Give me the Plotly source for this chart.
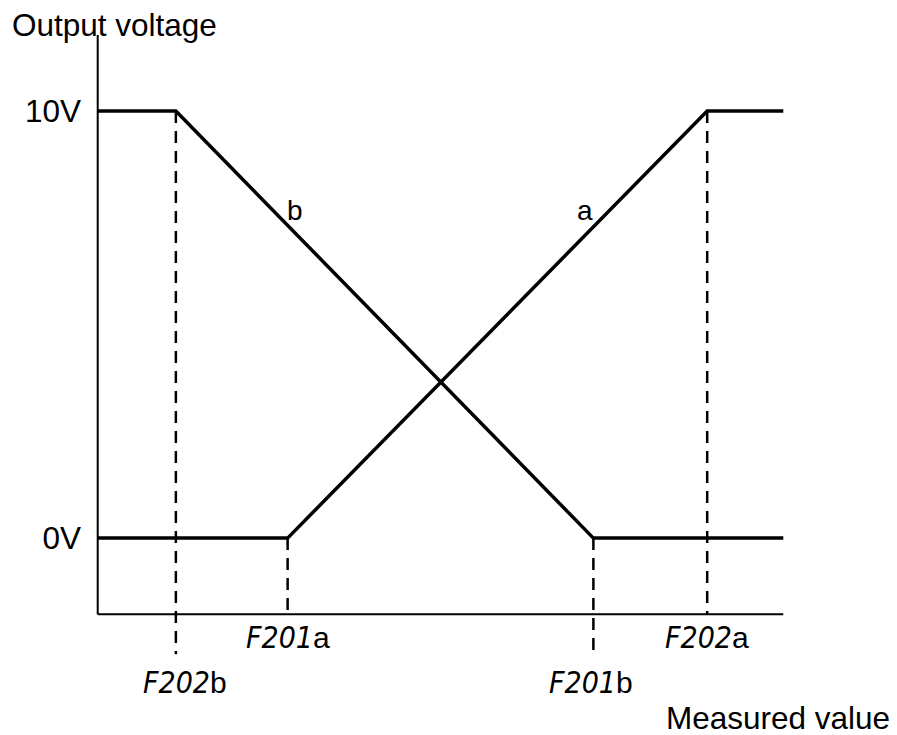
import plotly.graph_objects as go

# Measured-value break points (arbitrary 0-100 scale) and output levels in volts
x_f202b = 11.4
x_f201a = 27.7
x_f201b = 72.3
x_f202a = 88.9
x_end = 100.0
v_low = 0.0
v_high = 10.0

# Output characteristic a (rising) and b (falling)
a_x = [0.0, x_f201a, x_f202a, x_end]
a_y = [v_low, v_low, v_high, v_high]
b_x = [0.0, x_f202b, x_f201b, x_end]
b_y = [v_high, v_high, v_low, v_low]

tick_vals = [v_low, v_high]
tick_text = ["0V", "10V"]

axis_floor = -1.78   # level of the measured-value axis
axis_top = 11.78
y_bottom = -4.61

FONT = "Liberation Sans, Arial, sans-serif"
SEG = "font-family:'Liberation Sans Narrow','DejaVu Sans Condensed',Roboto,sans-serif;font-style:italic"

fig = go.Figure()
for xs, ys in ((a_x, a_y), (b_x, b_y)):
    fig.add_trace(go.Scatter(x=xs, y=ys, mode="lines",
                             line=dict(color="black", width=3.5),
                             hoverinfo="skip", showlegend=False))

shapes = [
    # axes
    dict(type="line", xref="x", yref="y", x0=0, x1=0, y0=axis_floor, y1=axis_top,
         line=dict(color="black", width=2)),
    dict(type="line", xref="x", yref="y", x0=0, x1=x_end, y0=axis_floor, y1=axis_floor,
         line=dict(color="black", width=2)),
]
# dashed guides from each break point
guides = [
    (x_f202b, v_high, -2.72),
    (x_f201a, v_low, axis_floor),
    (x_f201b, v_low, -2.72),
    (x_f202a, v_high, axis_floor),
]
for gx, gy0, gy1 in guides:
    shapes.append(dict(type="line", xref="x", yref="y", x0=gx, x1=gx, y0=gy0, y1=gy1,
                       line=dict(color="black", width=2.5, dash="12px,8px")))

annotations = [
    dict(text="Output voltage", xref="paper", yref="paper", x=-0.1038, y=1.0143,
         xanchor="left", yanchor="middle", showarrow=False, font=dict(size=31.5)),
    dict(text="Measured value", xref="paper", yref="paper", x=1.1332, y=0.0243,
         xanchor="right", yanchor="middle", showarrow=False, font=dict(size=31.5)),
    dict(text="b", x=28.8, y=7.68, showarrow=False, font=dict(size=28)),
    dict(text="a", x=71.1, y=7.68, showarrow=False, font=dict(size=28)),
]
param_labels = [
    ("F201", "a", x_f201a, -2.32),
    ("F202", "b", x_f202b + 1.3, -3.37),
    ("F201", "b", x_f201b - 0.4, -3.37),
    ("F202", "a", x_f202a, -2.32),
]
for code, suffix, lx, ly in param_labels:
    annotations.append(dict(
        text=f"<span style=\"{SEG}\">{code}</span>{suffix}",
        x=lx, y=ly, showarrow=False, font=dict(size=30)))

fig.update_layout(
    width=897, height=735,
    margin=dict(l=84, r=100, t=35, b=0),
    paper_bgcolor="white", plot_bgcolor="white",
    font=dict(family=FONT, color="black", size=31.5),
    shapes=shapes, annotations=annotations,
    xaxis=dict(range=[-2, 102], showline=False, showgrid=False, zeroline=False,
               showticklabels=False, ticks="", fixedrange=True),
    yaxis=dict(range=[y_bottom, axis_top], showline=False, showgrid=False, zeroline=False,
               tickmode="array", tickvals=tick_vals, ticktext=tick_text,
               ticks="", ticklabelstandoff=2, tickfont=dict(size=31.5), fixedrange=True),
)

fig.write_html("out.html")
